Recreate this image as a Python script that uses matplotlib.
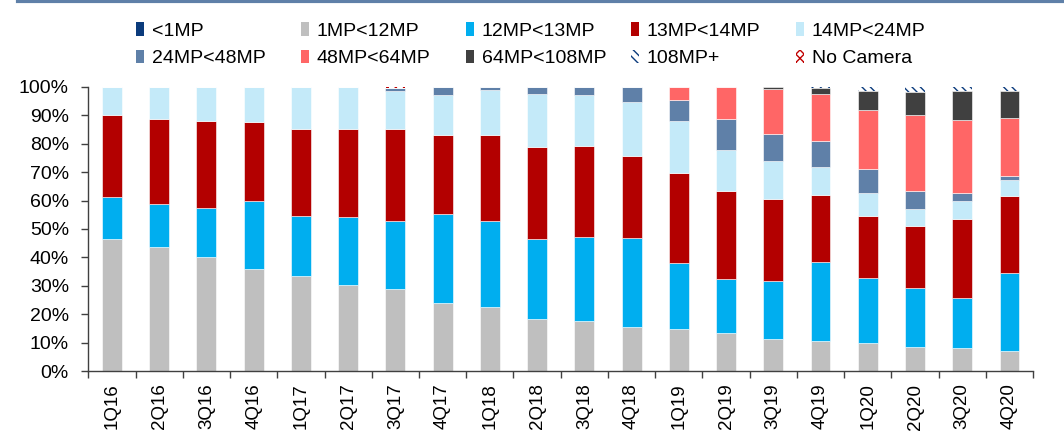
import matplotlib
matplotlib.use("Agg")
import matplotlib.pyplot as plt
import numpy as np
from matplotlib.patches import Patch
from matplotlib.lines import Line2D

plt.rcParams['font.family'] = ['Liberation Sans', 'DejaVu Sans']

quarters = ['1Q16', '2Q16', '3Q16', '4Q16', '1Q17', '2Q17', '3Q17', '4Q17',
            '1Q18', '2Q18', '3Q18', '4Q18', '1Q19', '2Q19', '3Q19', '4Q19',
            '1Q20', '2Q20', '3Q20', '4Q20']

# share of shipments by rear camera resolution, % of units
lt1mp = [0.0] * 20
mp1_12 = [46.4, 43.7, 40.3, 35.9, 33.4, 30.4, 28.7, 23.9, 22.5, 18.4,
          17.7, 15.6, 14.7, 13.4, 11.4, 10.6, 9.7, 8.4, 8.1, 7.0]
mp12_13 = [14.8, 15.0, 16.9, 23.9, 21.2, 23.9, 24.2, 31.2, 30.4, 27.9,
           29.3, 31.2, 23.3, 19.0, 20.3, 27.6, 23.0, 20.8, 17.5, 27.6]
mp13_14 = [29.0, 29.8, 30.6, 27.8, 30.5, 30.8, 32.2, 28.0, 30.2, 32.4,
           32.1, 28.8, 31.8, 31.1, 28.9, 23.7, 22.0, 21.9, 28.0, 27.1]
mp14_24 = [9.6, 11.3, 12.0, 12.2, 14.7, 14.7, 13.5, 14.0, 15.6, 18.8,
           17.9, 19.0, 18.2, 14.2, 13.3, 9.8, 8.1, 6.0, 6.4, 5.6]
mp24_48 = [0.0, 0.0, 0.0, 0.0, 0.0, 0.0, 1.0, 2.7, 1.1, 2.3,
           2.8, 5.2, 7.2, 10.8, 9.6, 9.1, 8.4, 6.3, 2.7, 1.4]
mp48_64 = [0.0] * 12 + [4.6, 11.3, 15.8, 16.5, 20.6, 26.6, 25.7, 20.2]
mp64_108 = [0.0] * 14 + [0.5, 2.2, 6.7, 8.2, 10.0, 9.7]
mp108 = [0.0] * 15 + [0.3, 1.3, 1.6, 1.4, 1.2]
no_camera = [0.2] * 6 + [0.4] + [0.2] * 13

series = [
    ('<1MP', lt1mp, '#0B3B7C', None),
    ('1MP<12MP', mp1_12, '#BFBFBF', None),
    ('12MP<13MP', mp12_13, '#00AEEF', None),
    ('13MP<14MP', mp13_14, '#B30000', None),
    ('14MP<24MP', mp14_24, '#C4EAF9', None),
    ('24MP<48MP', mp24_48, '#5F80A8', None),
    ('48MP<64MP', mp48_64, '#FF6666', None),
    ('64MP<108MP', mp64_108, '#404040', None),
    ('108MP+', mp108, '#0B3B7C', '\\\\\\\\'),
    ('No Camera', no_camera, '#C00000', 'xxxx'),
]

fig = plt.figure(figsize=(10.64, 4.34), dpi=100)
ax = fig.add_axes([0.083, 0.145, 0.888, 0.655])

x = np.arange(len(quarters))
bottom = np.zeros(len(quarters))
handles = []
for name, vals, color, hatch in series:
    vals = np.array(vals)
    if hatch:
        ax.bar(x, vals, 0.42, bottom=bottom, facecolor='white', edgecolor=color,
               hatch=hatch, linewidth=0)
        h = Patch(facecolor='white', edgecolor=color, hatch=hatch, linewidth=0, label=name)
    else:
        ax.bar(x, vals, 0.42, bottom=bottom, color=color, edgecolor='#ffffff',
               linewidth=0.4)
        h = Patch(facecolor=color, edgecolor='none', label=name)
    handles.append(h)
    bottom += vals

ax.set_xlim(-0.5, len(quarters) - 0.5)
ax.set_ylim(0, 100)
ax.set_yticks(np.arange(0, 101, 10))
ax.set_yticklabels([f'{v}%' for v in range(0, 101, 10)], fontsize=14)
ax.set_xticks(x)
ax.set_xticklabels(quarters, rotation=90, fontsize=13.5)
ax.set_xticks(np.arange(-0.5, len(quarters)), minor=True)
ax.tick_params(axis='x', which='major', length=0, pad=9)
ax.tick_params(axis='x', which='minor', length=5, width=1, color='#404040')
ax.tick_params(axis='y', length=5, width=1, color='#404040', pad=9)
for side in ['top', 'right']:
    ax.spines[side].set_visible(False)
for side in ['left', 'bottom']:
    ax.spines[side].set_color('#404040')
    ax.spines[side].set_linewidth(1)

# legend: five evenly spaced columns, two rows each
col_x = [136, 301, 466, 631, 796]
for c, px in enumerate(col_x):
    pair = [handles[c], handles[c + 5]]
    fig.legend(pair, [h.get_label() for h in pair], loc='upper left',
               bbox_to_anchor=(px / 1064, 1 - 22 / 434), frameon=False,
               fontsize=14, handlelength=0.4, handleheight=0.7,
               handletextpad=0.4, labelspacing=0.52, borderpad=0,
               borderaxespad=0)

# header rule across the top
fig.add_artist(Line2D([0.017, 1.0], [0.997, 0.997], color='#5F80A8', linewidth=3,
                      transform=fig.transFigure))

fig.savefig('out.png', dpi=100)
